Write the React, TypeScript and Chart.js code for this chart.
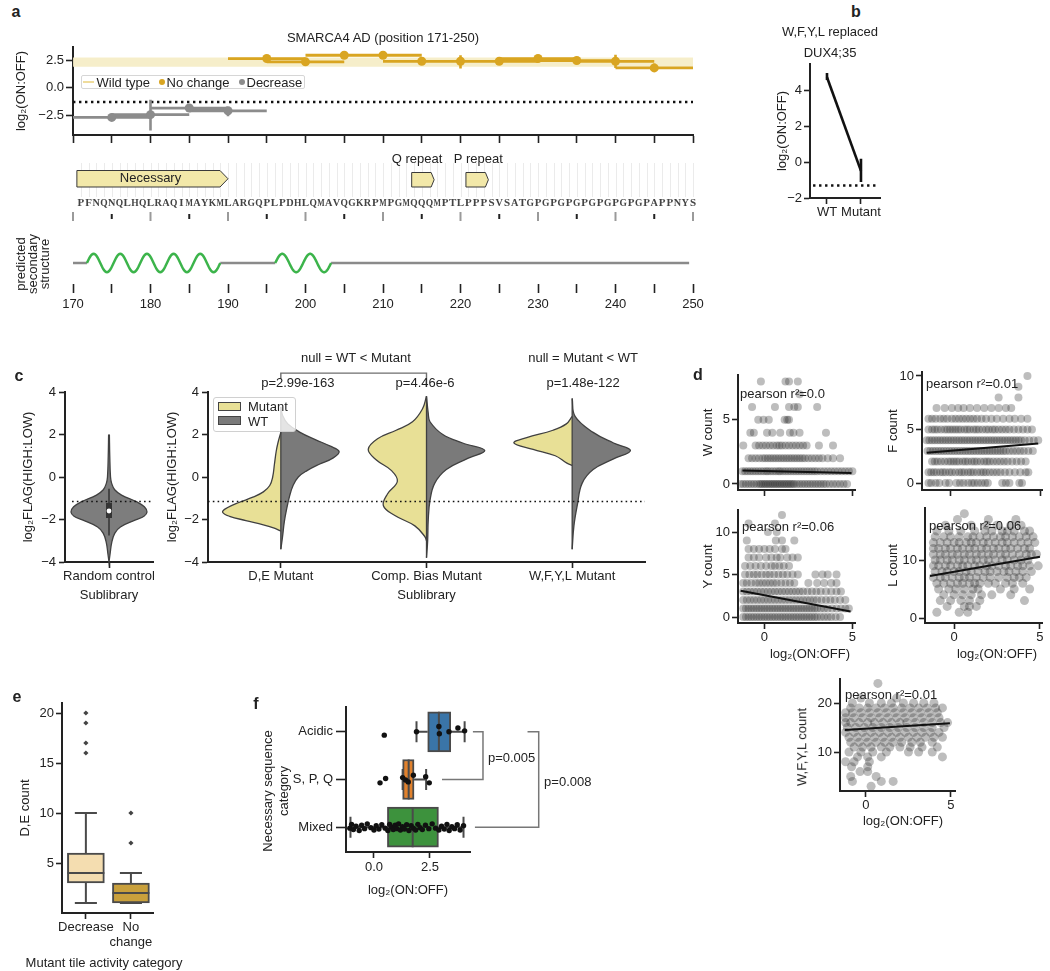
import React, { useEffect, useRef } from 'react';
import { Chart, registerables } from 'chart.js';

Chart.register(...registerables);

const FONT = "'Liberation Sans', Arial, Helvetica, sans-serif";
const INK = '#222222';
const FS = 13;
const LH = FS * 1.2;
Chart.defaults.font.family = FONT;
Chart.defaults.color = INK;

/* ================= DATA: panel a ================= */
const POS_TICKS = [170, 175, 180, 185, 190, 195, 200, 205, 210, 215, 220, 225, 230, 235, 240, 245, 250];
const A_Y_TICKS = [-2.5, 0, 2.5];
const WT_BAND = [1.9, 2.75];
const A_THRESHOLD = -1.3;
const TILE_HALF_WIDTH = 5;
const DEC_CENTERS = [175, 180, 185, 190];
const DEC_VALUES = [-2.7, -2.45, -1.85, -2.1];
const DEC_LOW = [-2.8, -3.9, -1.95, -2.6];
const DEC_HIGH = [-2.6, -1.1, -1.7, -1.75];
const NC_CENTERS = [195, 200, 205, 210, 215, 220, 225, 230, 235, 240, 245];
const NC_VALUES = [2.65, 2.35, 2.95, 2.95, 2.4, 2.4, 2.4, 2.65, 2.47, 2.4, 1.8];
const NC_LOW = [2.56, 2.26, 2.87, 2.87, 2.25, 1.75, 2.3, 2.56, 2.38, 1.8, 1.45];
const NC_HIGH = [2.74, 2.44, 3.03, 3.03, 2.55, 2.95, 2.5, 2.74, 2.56, 3.0, 2.2];
const SEQ_START = 171;
const SEQUENCE = 'PFNQNQLHQLRAQIMAYKM' + 'LARGQPLPDHLQMAVQGKRPM' + 'PGMQQQMPTLPPPSVSATG' + 'PGPGPGPGPGPGPGPAPPNYS';
const FEATURE_NAMES = ['Necessary', 'Q repeat', 'P repeat'];
const FEATURE_START = [170.5, 213.7, 220.7];
const FEATURE_END = [190, 216.6, 223.6];
const FEATURE_LABEL_POS = [180, 214.4, 222.3];
const HELIX_START = [171.8, 196.1];
const HELIX_END = [189, 203.3];
const HELIX_TURNS = [5, 2];
const SS_EXTENT = [170, 249.5];

/* ================= DATA: panel b ================= */
const B_CATEGORIES = ['WT', 'Mutant'];
const B_VALUES = [4.76, -0.48];
const B_LOW = [4.6, -1.1];
const B_HIGH = [5.0, 0.2];
const B_THRESHOLD = -1.3;
const B_Y_TICKS = [-2, 0, 2, 4];

/* ================= DATA: panel c ================= */
const C_Y_TICKS = [-4, -2, 0, 2, 4];
const C_THRESHOLD = -1.15;
const RC_Y = [2.0, 1.0, 0.0, -0.3, -0.6, -0.85, -1.16, -1.4, -1.65, -1.85, -2.02, -2.35, -2.65, -3.1, -3.6, -4.0];
const RC_W = [0.01, 0.02, 0.04, 0.07, 0.15, 0.33, 0.72, 0.93, 1.0, 0.92, 0.7, 0.3, 0.15, 0.07, 0.03, 0.0];
const RC_BOX = [-1.93, -1.22];
const RC_WHISKER = [-2.75, -0.55];
const RC_MEDIAN = -1.6;
const C2_CATEGORIES = ['D,E Mutant', 'Comp. Bias Mutant', 'W,F,Y,L Mutant'];
const DE_MUT_Y = [2.1, 1.6, 1.2, 0.6, 0.0, -0.4, -0.7, -0.95, -1.2, -1.45, -1.65, -1.85, -2.05, -2.25, -2.42, -2.55];
const DE_MUT_W = [0, 0.05, 0.08, 0.11, 0.14, 0.19, 0.3, 0.48, 0.72, 0.92, 1.0, 0.88, 0.6, 0.3, 0.1, 0];
const DE_WT_Y = [3.3, 2.9, 2.5, 2.1, 1.75, 1.45, 1.2, 0.9, 0.6, 0.3, 0.0, -0.4, -0.9, -1.5, -2.1, -2.8, -3.4];
const DE_WT_W = [0, 0.03, 0.12, 0.33, 0.6, 0.85, 1.0, 0.9, 0.66, 0.45, 0.3, 0.21, 0.15, 0.1, 0.06, 0.03, 0];
const CB_MUT_Y = [3.8, 3.2, 2.6, 2.2, 1.8, 1.3, 0.8, 0.3, -0.2, -0.8, -1.35, -1.8, -2.3, -2.8, -3.0];
const CB_MUT_W = [0, 0.07, 0.24, 0.52, 0.84, 1.0, 0.86, 0.6, 0.5, 0.67, 0.74, 0.55, 0.2, 0.03, 0];
const CB_WT_Y = [3.8, 3.0, 2.6, 2.0, 1.6, 1.25, 0.85, 0.35, -0.3, -1.1, -2.0, -3.0, -3.8];
const CB_WT_W = [0, 0.03, 0.06, 0.28, 0.62, 1.0, 0.69, 0.34, 0.14, 0.06, 0.03, 0.02, 0];
const WF_MUT_Y = [2.85, 2.5, 2.2, 1.85, 1.6, 1.3, 1.0, 0.65, 0.55];
const WF_MUT_W = [0, 0.1, 0.33, 0.78, 1.0, 0.67, 0.29, 0.09, 0];
const WF_WT_Y = [3.7, 2.85, 2.1, 1.6, 1.25, 0.85, 0.35, -0.3, -1.3, -2.3, -3.4];
const WF_WT_W = [0, 0.05, 0.36, 0.71, 1.0, 0.71, 0.36, 0.17, 0.09, 0.03, 0];
const C2_BRACKET_X = [0, 0, 1, 1];
const C2_BRACKET_Y = [4.61, 4.89, 4.89, 4.24];
const C2_NOTE_TEXT = ['null = WT < Mutant', 'p=2.99e-163', 'p=4.46e-6', 'null = Mutant < WT', 'p=1.48e-122'];
const C2_NOTE_X = [0.515, 0.117, 0.99, 2.075, 2.075];
const C2_NOTE_Y = [5.6, 4.42, 4.42, 5.6, 4.42];

/* ================= DATA: panel d (x values per integer count) ================= */
const W_ROWS = [
  [-1.35, -1.2, -1.05, -0.9, -0.75, -0.6, -0.45, -0.3, -0.2, -0.1, 0, 0.1, 0.2, 0.3, 0.4, 0.5, 0.6, 0.7, 0.8, 0.9, 1.0, 1.1, 1.2, 1.3, 1.4, 1.5, 1.6, 1.7, 1.85, 2.0, 2.15, 2.3, 2.45, 2.6, 2.75, 2.9, 3.05, 3.2, 3.35, 3.5, 3.7, 3.9, 4.1, 4.3, 4.5, 4.7],
  [-1.25, -1.1, -0.95, -0.8, -0.65, -0.5, -0.35, -0.2, -0.05, 0.1, 0.2, 0.35, 0.5, 0.65, 0.8, 0.9, 1.05, 1.2, 1.35, 1.5, 1.65, 1.8, 1.95, 2.1, 2.25, 2.4, 2.55, 2.7, 2.85, 3.0, 3.2, 3.4, 3.6, 3.8, 4.0, 4.2, 4.4, 4.6, 4.8, 5.0],
  [-0.9, -0.7, -0.5, -0.3, -0.1, 0.05, 0.2, 0.35, 0.5, 0.65, 0.8, 0.95, 1.1, 1.25, 1.4, 1.55, 1.7, 1.85, 2.0, 2.15, 2.3, 2.5, 2.7, 2.9, 3.1, 3.3, 3.6, 3.9, 4.3],
  [-1.2, -0.5, -0.3, -0.1, 0.1, 0.3, 0.5, 0.7, 0.85, 1.0, 1.2, 1.4, 1.6, 1.8, 2.0, 2.2, 2.4, 3.1, 3.9],
  [-0.8, -0.6, 0.15, 0.45, 0.9, 1.45, 1.65, 2.0, 3.5],
  [-0.35, -0.05, 0.25, 1.15, 1.3, 1.4],
  [-0.7, 0.6, 1.4, 1.7, 1.9, 3.0],
  [2.0],
  [-0.2, 1.2, 1.4, 1.9],
];
const F_ROWS = [
  [-1.2, -1.05, -0.8, -0.6, -0.25, -0.05, 0.35, 0.55, 0.75, 1.0, 1.2, 1.35, 1.55, 1.75, 1.95, 2.1, 2.9, 3.1, 3.3, 3.85, 4.0],
  [-1.2, -1.05, -0.9, -0.75, -0.55, -0.4, -0.25, -0.05, 0.1, 0.3, 0.5, 0.65, 0.8, 1.0, 1.15, 1.3, 1.5, 1.7, 1.85, 2.0, 2.2, 2.4, 2.6, 2.8, 3.05, 3.3, 3.6, 3.9, 4.2, 4.35],
  [-1.0, -0.85, -0.7, -0.5, -0.3, -0.1, 0.05, 0.2, 0.35, 0.5, 0.7, 0.85, 1.0, 1.2, 1.35, 1.5, 1.7, 1.9, 2.05, 2.2, 2.4, 2.6, 2.8, 3.0, 3.2, 3.45, 3.7, 3.95, 4.2],
  [-1.25, -1.1, -0.95, -0.8, -0.65, -0.5, -0.35, -0.2, -0.05, 0.1, 0.25, 0.4, 0.55, 0.7, 0.85, 1.0, 1.15, 1.3, 1.45, 1.6, 1.75, 1.9, 2.05, 2.2, 2.35, 2.5, 2.65, 2.8, 2.95, 3.1, 3.3, 3.5, 3.7, 3.9, 4.1, 4.35, 4.6],
  [-1.3, -1.15, -1.0, -0.85, -0.7, -0.55, -0.4, -0.25, -0.1, 0.05, 0.2, 0.35, 0.5, 0.65, 0.8, 0.95, 1.1, 1.25, 1.4, 1.55, 1.7, 1.85, 2.0, 2.15, 2.3, 2.45, 2.6, 2.75, 2.9, 3.05, 3.2, 3.35, 3.5, 3.65, 3.8, 3.95, 4.15, 4.4, 4.65, 4.9],
  [-1.2, -1.0, -0.85, -0.7, -0.5, -0.3, -0.15, 0.0, 0.15, 0.3, 0.45, 0.6, 0.8, 0.95, 1.1, 1.3, 1.45, 1.6, 1.8, 2.0, 2.15, 2.35, 2.5, 2.7, 2.9, 3.1, 3.3, 3.55, 3.8, 4.05, 4.3, 4.55],
  [-1.2, -1.0, -0.8, -0.55, -0.35, -0.15, 0.1, 0.3, 0.5, 0.7, 0.9, 1.1, 1.3, 1.5, 1.75, 2.0, 2.3, 2.6, 2.95, 3.3, 3.6, 3.95, 4.3],
  [-0.75, -0.3, 0.1, 0.45, 0.75, 1.1, 1.5, 1.9, 2.3, 2.7, 3.1, 3.4],
  [2.7, 3.8],
  [3.8],
  [4.3],
];
const Y_ROWS = [
  [-1.2, -1.05, -0.9, -0.75, -0.6, -0.45, -0.3, -0.15, 0, 0.15, 0.3, 0.45, 0.6, 0.75, 0.9, 1.05, 1.2, 1.35, 1.5, 1.65, 1.8, 1.95, 2.1, 2.25, 2.4, 2.55, 2.7, 2.85, 3.0, 3.2, 3.4, 3.6, 3.8, 4.05, 4.3],
  [-1.2, -1.05, -0.9, -0.75, -0.6, -0.45, -0.3, -0.15, 0, 0.15, 0.3, 0.45, 0.6, 0.75, 0.9, 1.05, 1.2, 1.35, 1.5, 1.65, 1.8, 1.95, 2.1, 2.25, 2.4, 2.55, 2.7, 2.85, 3.0, 3.2, 3.4, 3.6, 3.85, 4.1, 4.35, 4.6, 4.8],
  [-1.2, -1.0, -0.8, -0.6, -0.4, -0.2, 0, 0.2, 0.4, 0.6, 0.8, 1.0, 1.2, 1.4, 1.6, 1.8, 2.0, 2.2, 2.4, 2.6, 2.8, 3.0, 3.25, 3.5, 3.75, 4.0, 4.3, 4.6],
  [-1.2, -1.0, -0.8, -0.6, -0.4, -0.2, 0, 0.2, 0.4, 0.6, 0.8, 1.0, 1.2, 1.4, 1.6, 1.8, 2.0, 2.2, 2.45, 2.7, 2.95, 3.2, 3.5, 3.8, 4.1, 4.35],
  [-1.2, -1.0, -0.75, -0.5, -0.3, -0.1, 0.1, 0.3, 0.5, 0.7, 0.95, 1.2, 1.45, 1.7, 2.5, 3.0, 3.4, 3.8, 4.1],
  [-1.1, -0.85, -0.6, -0.4, -0.15, 0.1, 0.3, 0.55, 0.8, 1.05, 1.3, 1.6, 1.9, 2.9, 3.3, 3.6, 4.1],
  [-1.1, -0.8, -0.5, -0.2, 0.1, 0.4, 0.6, 0.85, 1.1, 1.4],
  [-0.9, -0.6, -0.3, 0.1, 0.4, 0.7, 0.9, 1.3, 1.6, 1.9],
  [-0.9, -0.6, -0.3, 0.0, 0.3, 0.6, 1.0, 1.2],
  [-1.0, 0.65, 1.0, 1.7],
  [0.2, 0.7],
  [-0.9, 0.6],
  [1.0],
];
const L_ROWS = [
  [],
  [-1.0, 0.3, 0.8],
  [-0.4, 0.6, 0.9, 1.3],
  [-0.8, -0.2, 0.4, 0.9, 1.5, 4.1],
  [-0.6, 0.0, 0.5, 1.0, 1.6, 2.2, 3.3],
  [-0.9, -0.3, 0.1, 0.6, 1.1, 1.4, 2.7, 3.5, 4.4],
  [-1.0, -0.6, -0.2, 0.2, 0.5, 0.9, 1.2, 1.5, 2.0, 2.4, 3.0, 3.4, 4.0],
  [-1.2, -0.8, -0.5, -0.1, 0.3, 0.6, 0.9, 1.3, 1.7, 2.1, 2.6, 3.1, 3.5, 3.8, 4.2],
  [-1.1, -0.7, -0.4, 0, 0.3, 0.7, 1.0, 1.4, 1.8, 2.1, 2.5, 2.9, 3.2, 3.6, 4.0, 4.5],
  [-1.2, -0.9, -0.5, -0.2, 0.2, 0.5, 0.8, 1.2, 1.5, 1.9, 2.2, 2.6, 3.0, 3.3, 3.7, 4.0, 4.4, 4.9],
  [-1.1, -0.8, -0.4, -0.1, 0.3, 0.6, 1.0, 1.3, 1.7, 2.0, 2.4, 2.8, 3.1, 3.5, 3.9, 4.3],
  [-1.2, -0.8, -0.5, -0.1, 0.2, 0.6, 0.9, 1.3, 1.6, 2.0, 2.3, 2.7, 3.0, 3.4, 3.8, 4.2, 4.5, 4.8],
  [-1.2, -0.9, -0.5, -0.2, 0.2, 0.5, 0.9, 1.2, 1.6, 1.9, 2.3, 2.6, 3.0, 3.3, 3.7, 4.1, 4.4],
  [-1.2, -0.8, -0.4, 0, 0.3, 0.7, 1.0, 1.3, 1.7, 2.0, 2.4, 2.8, 3.1, 3.5, 3.9, 4.3, 4.7],
  [-1.1, -0.6, -0.2, 0.3, 0.8, 1.1, 1.5, 1.9, 2.3, 2.7, 3.0, 3.4, 3.8, 4.2, 4.6],
  [-1.0, -0.3, 0.4, 1.2, 1.8, 2.2, 2.8, 3.1, 3.5, 4.1, 4.4],
  [-0.5, 1.0, 1.9, 2.5, 3.3, 3.9],
  [0.2, 2.0, 3.6],
  [0.6],
];
const WFYL_ROWS = [
  [], [], [],
  [0.3],
  [-0.8, 0.9, 1.6],
  [-0.9, 0.6],
  [-0.35, 0.1],
  [-0.85, 0.1],
  [-1.2, -0.7, 0.2],
  [-0.5, 0.1, 0.9, 4.5],
  [-1.0, -0.3, 0.4, 1.2, 2.5, 3.1, 3.9],
  [-0.7, -0.2, 0.3, 0.9, 1.4, 2.0, 2.6, 3.3, 4.2],
  [-0.9, -0.4, 0.1, 0.6, 1.1, 1.6, 2.1, 2.7, 3.2, 3.9],
  [-1.0, -0.5, 0, 0.5, 1.0, 1.5, 2.0, 2.5, 3.0, 3.5, 4.0, 4.5],
  [-1.2, -0.7, -0.2, 0.3, 0.8, 1.3, 1.8, 2.3, 2.8, 3.3, 3.8, 4.3],
  [-1.1, -0.6, -0.1, 0.4, 0.9, 1.4, 1.9, 2.4, 2.9, 3.4, 3.9, 4.6],
  [-1.2, -0.9, -0.4, 0.1, 0.5, 1.0, 1.5, 2.0, 2.4, 2.9, 3.4, 3.9, 4.4, 4.8],
  [-1.2, -0.7, -0.2, 0.3, 0.8, 1.3, 1.8, 2.3, 2.8, 3.3, 3.8, 4.3],
  [-1.2, -0.8, -0.3, 0.2, 0.7, 1.2, 1.7, 2.2, 2.7, 3.2, 3.7, 4.2],
  [-0.9, -0.4, 0.1, 0.6, 1.1, 1.6, 2.1, 2.6, 3.1, 3.6, 4.1, 4.5],
  [-0.8, 0.2, 0.9, 1.5, 2.2, 2.8, 3.4, 4.0],
  [-0.3, 1.8],
  [], [],
  [0.7],
];
const W_FIT_X = [-1.25, 4.95]; const W_FIT_Y = [1.05, 0.85];
const F_FIT_X = [-1.3, 4.9]; const F_FIT_Y = [2.83, 3.7];
const Y_FIT_X = [-1.35, 4.9]; const Y_FIT_Y = [3.1, 0.65];
const L_FIT_X = [-1.4, 5.0]; const L_FIT_Y = [7.24, 10.57];
const WFYL_FIT_X = [-1.24, 4.94]; const WFYL_FIT_Y = [14.5, 15.86];
const D_X_TICKS = [0, 5];

/* ================= DATA: panel e ================= */
const E_CATEGORIES = ['Decrease', 'No change'];
const E_Q1 = [3, 1];
const E_MEDIAN = [4, 2];
const E_Q3 = [6, 3];
const E_WHISK_LO = [1, 1];
const E_WHISK_HI = [10, 4];
const E_FLIERS = [[16, 17, 19, 20], [7, 10]];
const E_Y_TICKS = [5, 10, 15, 20];

/* ================= DATA: panel f ================= */
const F_CATEGORIES = ['Acidic', 'S, P, Q', 'Mixed'];
const F_Q1 = [2.4, 1.28, 0.6];
const F_MEDIAN = [2.9, 1.55, 1.73];
const F_Q3 = [3.43, 1.79, 2.88];
const F_WHISK_LO = [1.9, 1.28, -1.05];
const F_WHISK_HI = [4.05, 2.33, 4.0];
const ACIDIC_X = [0.46, 1.9, 2.9, 2.92, 3.35, 3.75, 4.05];
const ACIDIC_J = [0.07, 0.0, -0.11, 0.04, 0.0, -0.08, -0.02];
const SPQ_X = [0.27, 0.52, 1.28, 1.41, 1.53, 1.76, 2.31, 2.47];
const SPQ_J = [0.07, -0.02, -0.04, 0.01, 0.05, -0.09, -0.06, 0.07];
const MIXED_X = [-1.08, -1.0, -0.92, -0.8, -0.66, -0.55, -0.42, -0.3, -0.14, 0.0, 0.1, 0.22, 0.35, 0.5, 0.62, 0.7, 0.78, 0.86, 0.95, 1.02, 1.1, 1.18, 1.27, 1.36, 1.46, 1.56, 1.66, 1.76, 1.86, 1.96, 2.06, 2.16, 2.3, 2.45, 2.6, 2.75, 2.9, 3.02, 3.14, 3.26, 3.36, 3.48, 3.6, 3.72, 3.85, 4.0];
const MIXED_J = [0.02, -0.06, 0.05, -0.02, 0.07, -0.04, 0.03, -0.07, 0.01, 0.06, -0.03, 0.04, -0.05, 0.02, 0.07, -0.06, 0.0, 0.05, -0.04, 0.03, -0.07, 0.06, -0.01, 0.04, -0.05, 0.07, -0.03, 0.02, 0.06, -0.06, 0.01, 0.05, -0.04, 0.03, -0.07, 0.02, 0.06, -0.02, 0.04, -0.06, 0.07, -0.01, 0.03, -0.05, 0.06, -0.03];
const F_X_TICKS = [0, 2.5];
const F_BRACKET1_X = [4.42, 4.87, 4.87, 3.04];
const F_BRACKET1_Y = [0, 0, 1, 1];
const F_BRACKET2_X = [6.86, 7.36, 7.36, 4.51];
const F_BRACKET2_Y = [0, 0, 2, 2];
const F_P_TEXT = ['p=0.005', 'p=0.008'];
const F_P_X = [5.09, 7.6];
const F_P_Y = [0.55, 1.07];

/* ================= STYLE ================= */
const NC_COLOR = '#d9a521';
const DEC_COLOR = '#8c8c8c';
const BAND_COLOR = 'rgba(245,236,196,0.9)';
const FEATURE_FILL = '#f2e8a9';
const SS_COIL = '#8a8a8a';
const SS_HELIX = '#3cb44b';
const MUT_COLOR = '#e8e096';
const WT_COLOR = '#7a7a7a';
const OUTLINE = '#404040';
const DOT = 'rgba(35,35,35,0.3)';
const E_COLORS = ['#f4ddb0', '#c9a03c'];
const F_COLORS = ['#3a75a8', '#e1812c', '#3d923d'];
const BOX_EDGE = '#4a4a4a';

type Box = { x: number; y: number; w: number; h: number };
type Area = { l: number; t: number; r: number; b: number };

const A_TOP_BOX: Box = { x: 0, y: 25, w: 700, h: 125 };
const A_TOP_AREA: Area = { l: 73, t: 47, r: 693, b: 135 };
const A_MID_BOX: Box = { x: 0, y: 150, w: 720, h: 170 };
const A_MID_AREA: Area = { l: 73, t: 150, r: 693, b: 284 };
const B_BOX: Box = { x: 768, y: 40, w: 122, h: 195 };
const B_AREA: Area = { l: 810, t: 64, r: 880, b: 198 };
const C1_BOX: Box = { x: 0, y: 380, w: 160, h: 230 };
const C1_AREA: Area = { l: 65, t: 392, r: 153, b: 562 };
const C2_BOX: Box = { x: 160, y: 345, w: 500, h: 265 };
const C2_AREA: Area = { l: 208, t: 392, r: 645, b: 562 };
const E_BOX: Box = { x: 0, y: 690, w: 175, h: 281 };
const E_AREA: Area = { l: 62, t: 703, r: 153, b: 913 };
const F_BOX: Box = { x: 240, y: 700, w: 360, h: 200 };
const F_AREA: Area = { l: 346, t: 707, r: 470, b: 852 };

function frame(c: Box, a: Area, yTitleX: number | null, xTitleY: number | null, hasY = true) {
  const padLeft = !hasY ? a.l - c.x : yTitleX == null ? 0 : yTitleX - LH / 2 - c.x;
  const yW = a.l - c.x - padLeft;
  const padBottom = xTitleY == null ? 0 : c.y + c.h - xTitleY - LH / 2;
  const xH = c.y + c.h - padBottom - a.b;
  return { padding: { left: padLeft, top: a.t - c.y, right: c.x + c.w - a.r, bottom: padBottom }, yW, xH };
}

const signed = (s: string) => s.replace('-', '\u2212');
const fmtInt = (v: number) => signed(String(v));
const fmt1 = (v: number) => signed(v.toFixed(1));

function axis(o: any) {
  return {
    type: 'linear',
    position: o.pos,
    min: o.min,
    max: o.max,
    reverse: !!o.reverse,
    offset: false,
    afterBuildTicks: (s: any) => {
      s.ticks = o.ticks.map((v: number) => ({ value: v }));
    },
    afterFit: (s: any) => {
      if (o.pos === 'bottom') s.height = o.size;
      else s.width = o.size;
      s.paddingLeft = 0;
      s.paddingRight = 0;
      s.paddingTop = 0;
      s.paddingBottom = 0;
    },
    border: { display: o.border !== false, color: INK, width: 2 },
    grid: { display: true, drawOnChartArea: false, drawTicks: true, tickLength: o.tickLen ?? 6, tickWidth: 1.6, tickColor: INK, offset: false },
    ticks: {
      display: o.labels !== false,
      padding: o.pad ?? 2,
      color: INK,
      font: { family: FONT, size: FS, lineHeight: 1.2 },
      autoSkip: false,
      maxRotation: 0,
      minRotation: 0,
      callback: (v: any) => (o.fmt ? o.fmt(Number(v)) : String(v)),
    },
    title: o.title
      ? { display: true, text: o.title, color: INK, font: { family: FONT, size: FS, lineHeight: 1.2 }, padding: 0 }
      : { display: false },
  };
}

function opts(f: any, scales: any) {
  return {
    animation: false,
    responsive: false,
    maintainAspectRatio: false,
    events: [],
    layout: { padding: f.padding },
    plugins: { legend: { display: false }, tooltip: { enabled: false }, title: { display: false } },
    scales,
  };
}

const lineDs = (data: any[], color: string, width: number, order: number, extra: any = {}) => ({
  type: 'line',
  data,
  borderColor: color,
  backgroundColor: color,
  borderWidth: width,
  pointRadius: 0,
  pointHoverRadius: 0,
  fill: false,
  spanGaps: false,
  tension: 0,
  order,
  clip: false,
  ...extra,
});
const pointDs = (data: any[], color: string, radius: number, order: number, extra: any = {}) => ({
  type: 'line',
  data,
  showLine: false,
  pointRadius: radius,
  pointHoverRadius: radius,
  pointBackgroundColor: color,
  pointBorderWidth: 0,
  pointBorderColor: 'rgba(0,0,0,0)',
  fill: false,
  order,
  clip: false,
  ...extra,
});
const rowsToPoints = (rows: number[][]) => rows.flatMap((xs, count) => xs.map((x) => ({ x, y: count })));
const half = (cx: number, ys: number[], ws: number[], maxW: number, side: number) =>
  ys.map((y, i) => ({ x: cx + side * ws[i] * maxW, y }));

/* ================= panel a (tiles) ================= */
function aTopConfig() {
  const f = frame(A_TOP_BOX, A_TOP_AREA, 21, null);
  const segs = (cs: number[], vs: number[]) =>
    cs.flatMap((c, i) => [{ x: c - TILE_HALF_WIDTH, y: vs[i] }, { x: c + TILE_HALF_WIDTH, y: vs[i] }, { x: c, y: null }]);
  const errs = (cs: number[], lo: number[], hi: number[]) =>
    cs.flatMap((c, i) => [{ x: c, y: lo[i] }, { x: c, y: hi[i] }, { x: c, y: null }]);
  const pts = (cs: number[], vs: number[]) => cs.map((c, i) => ({ x: c, y: vs[i] }));
  const xMin = POS_TICKS[0];
  const xMax = POS_TICKS[POS_TICKS.length - 1];
  return {
    type: 'line',
    data: {
      datasets: [
        lineDs([{ x: xMin, y: WT_BAND[1] }, { x: xMax, y: WT_BAND[1] }], 'rgba(0,0,0,0)', 0, 20, {
          fill: { target: { value: WT_BAND[0] } },
          backgroundColor: BAND_COLOR,
        }),
        lineDs([{ x: xMin, y: A_THRESHOLD }, { x: xMax, y: A_THRESHOLD }], '#111', 2.4, 15, { borderDash: [2.4, 3.6] }),
        lineDs(segs(DEC_CENTERS, DEC_VALUES), DEC_COLOR, 2.8, 6),
        lineDs(errs(DEC_CENTERS, DEC_LOW, DEC_HIGH), DEC_COLOR, 2.6, 5),
        pointDs(pts(DEC_CENTERS, DEC_VALUES), DEC_COLOR, 4.5, 4),
        lineDs(segs(NC_CENTERS, NC_VALUES), NC_COLOR, 2.8, 3),
        lineDs(errs(NC_CENTERS, NC_LOW, NC_HIGH), NC_COLOR, 2.6, 2),
        pointDs(pts(NC_CENTERS, NC_VALUES), NC_COLOR, 4.5, 1),
      ],
    },
    options: opts(f, {
      x: axis({ pos: 'bottom', min: xMin, max: xMax, ticks: POS_TICKS, size: f.xH, tickLen: 8, labels: false }),
      y: axis({ pos: 'left', min: -4.3, max: 3.7, ticks: A_Y_TICKS, fmt: fmt1, size: f.yW, tickLen: 7, pad: 2, title: 'log\u2082(ON:OFF)' }),
    }),
  };
}

const aMidPlugin = {
  id: 'aMid',
  afterDraw(chart: any) {
    const ctx = chart.ctx;
    const xs = chart.scales.x;
    const X = (v: number) => xs.getPixelForValue(v);
    const Y = (pageY: number) => pageY - A_MID_BOX.y;
    ctx.save();
    ctx.lineWidth = 1;
    ctx.strokeStyle = '#ebebeb';
    for (let i = 0; i < SEQUENCE.length; i++) {
      const px = Math.round(X(SEQ_START + i)) + 0.5;
      ctx.beginPath();
      ctx.moveTo(px, Y(163));
      ctx.lineTo(px, Y(197));
      ctx.stroke();
    }
    FEATURE_NAMES.forEach((name, i) => {
      const x0 = X(FEATURE_START[i]);
      const x1 = X(FEATURE_END[i]);
      const top = Y(i === 0 ? 170.5 : 172.5);
      const bot = Y(187);
      const tip = i === 0 ? 8 : 3;
      ctx.beginPath();
      ctx.moveTo(x0, top);
      ctx.lineTo(x1 - tip, top);
      ctx.lineTo(x1, (top + bot) / 2);
      ctx.lineTo(x1 - tip, bot);
      ctx.lineTo(x0, bot);
      ctx.closePath();
      ctx.fillStyle = FEATURE_FILL;
      ctx.fill();
      ctx.strokeStyle = '#3a3a3a';
      ctx.lineWidth = 1;
      ctx.stroke();
      ctx.fillStyle = INK;
      ctx.font = `${FS}px ${FONT}`;
      ctx.textAlign = 'center';
      ctx.textBaseline = 'middle';
      ctx.fillText(name, X(FEATURE_LABEL_POS[i]), i === 0 ? (top + bot) / 2 : Y(159));
    });
    ctx.font = "bold 11px 'Liberation Serif', 'DejaVu Serif', serif";
    ctx.fillStyle = '#444';
    ctx.textAlign = 'center';
    ctx.textBaseline = 'middle';
    for (let i = 0; i < SEQUENCE.length; i++) ctx.fillText(SEQUENCE[i], X(SEQ_START + i), Y(203), 7.4);
    for (const p of POS_TICKS) {
      const major = p % 10 === 0;
      ctx.strokeStyle = major ? '#9a9a9a' : '#222';
      ctx.lineWidth = 2;
      ctx.beginPath();
      ctx.moveTo(X(p), Y(major ? 212 : 214));
      ctx.lineTo(X(p), Y(major ? 221 : 219));
      ctx.stroke();
    }
    const base = Y(263);
    const amp = 9.2;
    ctx.lineWidth = 2.5;
    ctx.strokeStyle = SS_COIL;
    const bounds = [SS_EXTENT[0], ...HELIX_START.flatMap((s, i) => [s, HELIX_END[i]]), SS_EXTENT[1]];
    for (let k = 0; k < bounds.length; k += 2) {
      ctx.beginPath();
      ctx.moveTo(X(bounds[k]), base);
      ctx.lineTo(X(bounds[k + 1]), base);
      ctx.stroke();
    }
    ctx.strokeStyle = SS_HELIX;
    HELIX_START.forEach((s, i) => {
      const x0 = X(s);
      const x1 = X(HELIX_END[i]);
      ctx.beginPath();
      const n = 160;
      for (let k = 0; k <= n; k++) {
        const t = k / n;
        const px = x0 + (x1 - x0) * t;
        const py = base - amp * Math.sin(2 * Math.PI * HELIX_TURNS[i] * t);
        if (k === 0) ctx.moveTo(px, py);
        else ctx.lineTo(px, py);
      }
      ctx.stroke();
    });
    ctx.restore();
  },
};

function aMidConfig() {
  const f = frame(A_MID_BOX, A_MID_AREA, null, null, false);
  return {
    type: 'line',
    data: { datasets: [] },
    options: opts(f, {
      x: axis({
        pos: 'bottom', min: POS_TICKS[0], max: POS_TICKS[POS_TICKS.length - 1], ticks: POS_TICKS,
        fmt: (v: number) => (v % 10 === 0 ? String(v) : ''), size: f.xH, tickLen: 9, pad: 4, border: false,
      }),
      y: { display: false, min: 0, max: 1 },
    }),
    plugins: [aMidPlugin],
  };
}

/* ================= panel b ================= */
function bConfig() {
  const f = frame(B_BOX, B_AREA, 782, null);
  return {
    type: 'line',
    data: {
      datasets: [
        lineDs([{ x: -0.41, y: B_THRESHOLD }, { x: 1.47, y: B_THRESHOLD }], '#111', 2.4, 5, { borderDash: [2.4, 3.6] }),
        lineDs(B_VALUES.map((v, i) => ({ x: i, y: v })), '#111', 2.6, 1),
        lineDs(B_VALUES.flatMap((_, i) => [{ x: i, y: B_LOW[i] }, { x: i, y: B_HIGH[i] }, { x: i, y: null }]), '#111', 2.6, 0),
      ],
    },
    options: opts(f, {
      x: axis({ pos: 'bottom', min: -0.5, max: 1.56, ticks: [0, 1], fmt: (v: number) => B_CATEGORIES[Math.round(v)], size: f.xH, tickLen: 6, pad: 1 }),
      y: axis({ pos: 'left', min: -2, max: 5.5, ticks: B_Y_TICKS, fmt: fmtInt, size: f.yW, tickLen: 6, pad: 2, title: 'log\u2082(ON:OFF)' }),
    }),
  };
}

/* ================= panel c ================= */
function c1Config() {
  const f = frame(C1_BOX, C1_AREA, 28, 595);
  const maxW = 0.864;
  const right = half(0, RC_Y, RC_W, maxW, 1);
  const left = half(0, RC_Y, RC_W, maxW, -1).reverse();
  return {
    type: 'line',
    data: {
      datasets: [
        lineDs([...right, ...left], OUTLINE, 1.3, 10, { fill: 'shape', backgroundColor: '#7d7d7d', tension: 0.4 }),
        lineDs([{ x: 0, y: RC_WHISKER[0] }, { x: 0, y: RC_WHISKER[1] }], '#333', 1.5, 4),
        lineDs([{ x: 0, y: RC_BOX[0] }, { x: 0, y: RC_BOX[1] }], '#333', 6, 3, { borderCapStyle: 'butt' }),
        pointDs([{ x: 0, y: RC_MEDIAN }], '#ffffff', 2.4, 2),
        lineDs([{ x: -0.84, y: C_THRESHOLD }, { x: 1, y: C_THRESHOLD }], '#111', 1.6, 0, { borderDash: [1.6, 3.2] }),
      ],
    },
    options: opts(f, {
      x: axis({ pos: 'bottom', min: -1, max: 1, ticks: [0], fmt: () => 'Random control', size: f.xH, tickLen: 6, pad: 1, title: 'Sublibrary' }),
      y: axis({ pos: 'left', min: -4, max: 4, ticks: C_Y_TICKS, fmt: fmtInt, size: f.yW, tickLen: 6, pad: 3, title: 'log\u2082FLAG(HIGH:LOW)' }),
    }),
  };
}

const c2Plugin = {
  id: 'c2notes',
  afterDatasetsDraw(chart: any) {
    const { ctx } = chart;
    const xs = chart.scales.x;
    const ys = chart.scales.y;
    ctx.save();
    ctx.strokeStyle = '#6e6e6e';
    ctx.lineWidth = 1.4;
    ctx.beginPath();
    C2_BRACKET_X.forEach((bx, i) => {
      const px = xs.getPixelForValue(bx);
      const py = ys.getPixelForValue(C2_BRACKET_Y[i]);
      if (i === 0) ctx.moveTo(px, py);
      else ctx.lineTo(px, py);
    });
    ctx.stroke();
    ctx.fillStyle = INK;
    ctx.font = `${FS}px ${FONT}`;
    ctx.textAlign = 'center';
    ctx.textBaseline = 'middle';
    C2_NOTE_TEXT.forEach((t, i) => ctx.fillText(t, xs.getPixelForValue(C2_NOTE_X[i]), ys.getPixelForValue(C2_NOTE_Y[i])));
    ctx.restore();
  },
};

function c2Config() {
  const f = frame(C2_BOX, C2_AREA, 172, 595);
  const maxW = 0.4;
  const mut = [[DE_MUT_Y, DE_MUT_W], [CB_MUT_Y, CB_MUT_W], [WF_MUT_Y, WF_MUT_W]];
  const wt = [[DE_WT_Y, DE_WT_W], [CB_WT_Y, CB_WT_W], [WF_WT_Y, WF_WT_W]];
  const datasets: any[] = [];
  C2_CATEGORIES.forEach((_, i) => {
    const [my, mw] = mut[i];
    const [wy, ww] = wt[i];
    datasets.push(lineDs(half(i, my, mw, maxW, -1), OUTLINE, 1.3, 10, { fill: 'shape', backgroundColor: MUT_COLOR, tension: 0.4 }));
    datasets.push(lineDs(half(i, wy, ww, maxW, 1), OUTLINE, 1.3, 10, { fill: 'shape', backgroundColor: WT_COLOR, tension: 0.4 }));
    const top = Math.max(my[0], wy[0]);
    const bot = Math.min(my[my.length - 1], wy[wy.length - 1]);
    datasets.push(lineDs([{ x: i, y: top }, { x: i, y: bot }], OUTLINE, 1.3, 5));
  });
  datasets.push(lineDs([{ x: -0.5, y: C_THRESHOLD }, { x: 2.5, y: C_THRESHOLD }], '#111', 1.6, 0, { borderDash: [1.6, 3.2] }));
  return {
    type: 'line',
    data: { datasets },
    options: opts(f, {
      x: axis({ pos: 'bottom', min: -0.5, max: 2.5, ticks: [0, 1, 2], fmt: (v: number) => C2_CATEGORIES[Math.round(v)], size: f.xH, tickLen: 6, pad: 1, title: 'Sublibrary' }),
      y: axis({ pos: 'left', min: -4, max: 4, ticks: C_Y_TICKS, fmt: fmtInt, size: f.yW, tickLen: 6, pad: 3, title: 'log\u2082FLAG(HIGH:LOW)' }),
    }),
    plugins: [c2Plugin],
  };
}

/* ================= panel d ================= */
function dConfig(s: any) {
  const f = frame(s.box, s.area, s.yTitleX, null);
  return {
    type: 'line',
    data: {
      datasets: [
        lineDs([{ x: s.fitX[0], y: s.fitY[0] }, { x: s.fitX[1], y: s.fitY[1] }], '#111', 2, 0),
        pointDs(rowsToPoints(s.rows), DOT, s.radius, 1),
      ],
    },
    options: opts(f, {
      x: axis({ pos: 'bottom', min: s.xr[0], max: s.xr[1], ticks: D_X_TICKS, fmt: fmtInt, size: f.xH, tickLen: 6, pad: 0.5, labels: s.xLabels }),
      y: axis({ pos: 'left', min: s.yr[0], max: s.yr[1], ticks: s.yTicks, fmt: fmtInt, size: f.yW, tickLen: 6, pad: 2, title: s.yTitle }),
    }),
  };
}
const D_SPECS = [
  { box: { x: 695, y: 370, w: 165, h: 130 }, area: { l: 738, t: 375, r: 855, b: 490 }, yTitleX: 708, yTitle: 'W count', xr: [-1.5, 5.15], yr: [-0.47, 8.5], yTicks: [0, 5], rows: W_ROWS, fitX: W_FIT_X, fitY: W_FIT_Y, radius: 4, xLabels: false },
  { box: { x: 880, y: 365, w: 170, h: 135 }, area: { l: 922, t: 372, r: 1042, b: 490 }, yTitleX: 893, yTitle: 'F count', xr: [-1.56, 5.11], yr: [-0.65, 10.37], yTicks: [0, 5, 10], rows: F_ROWS, fitX: F_FIT_X, fitY: F_FIT_Y, radius: 4, xLabels: false },
  { box: { x: 695, y: 505, w: 165, h: 160 }, area: { l: 738, t: 510, r: 855, b: 623 }, yTitleX: 708, yTitle: 'Y count', xr: [-1.5, 5.15], yr: [-0.7, 12.6], yTicks: [0, 5, 10], rows: Y_ROWS, fitX: Y_FIT_X, fitY: Y_FIT_Y, radius: 4, xLabels: true },
  { box: { x: 880, y: 500, w: 170, h: 165 }, area: { l: 925, t: 508, r: 1042, b: 623 }, yTitleX: 893, yTitle: 'L count', xr: [-1.69, 5.12], yr: [-0.86, 18.97], yTicks: [0, 10], rows: L_ROWS, fitX: L_FIT_X, fitY: L_FIT_Y, radius: 4.5, xLabels: true },
  { box: { x: 790, y: 670, w: 175, h: 160 }, area: { l: 840, t: 679, r: 955, b: 791 }, yTitleX: null, yTitle: '', xr: [-1.53, 5.24], yr: [2.04, 24.9], yTicks: [10, 20], rows: WFYL_ROWS, fitX: WFYL_FIT_X, fitY: WFYL_FIT_Y, radius: 4.5, xLabels: true },
];

/* ================= panel e ================= */
function eConfig() {
  const f = frame(E_BOX, E_AREA, 25, null);
  const cap = 0.245;
  const bw = 0.41;
  const whisk = E_CATEGORIES.flatMap((_, i) => [
    { x: i, y: E_WHISK_LO[i] }, { x: i, y: E_Q1[i] }, { x: i, y: null },
    { x: i, y: E_Q3[i] }, { x: i, y: E_WHISK_HI[i] }, { x: i, y: null },
    { x: i - cap, y: E_WHISK_LO[i] }, { x: i + cap, y: E_WHISK_LO[i] }, { x: i, y: null },
    { x: i - cap, y: E_WHISK_HI[i] }, { x: i + cap, y: E_WHISK_HI[i] }, { x: i, y: null },
  ]);
  const med = E_CATEGORIES.flatMap((_, i) => [{ x: i - bw, y: E_MEDIAN[i] }, { x: i + bw, y: E_MEDIAN[i] }, { x: i, y: null }]);
  const fl = E_FLIERS.flatMap((vals, i) => vals.map((v) => ({ x: i, y: v })));
  return {
    type: 'bar',
    data: {
      datasets: [
        { type: 'bar', data: E_CATEGORIES.map((_, i) => ({ x: i, y: [E_Q1[i], E_Q3[i]] })), backgroundColor: E_COLORS, borderColor: BOX_EDGE, borderWidth: 2, borderSkipped: false, barThickness: 37, order: 5 },
        lineDs(whisk, BOX_EDGE, 2, 6),
        lineDs(med, BOX_EDGE, 2, 1),
        pointDs(fl, '#444', 2.6, 0, { pointStyle: 'rectRot' }),
      ],
    },
    options: opts(f, {
      x: axis({ pos: 'bottom', min: -0.53, max: 1.49, ticks: [0, 1], fmt: (v: number) => (Math.round(v) === 0 ? E_CATEGORIES[0] : ['No', 'change']), size: f.xH, tickLen: 6, pad: 0.5 }),
      y: axis({ pos: 'left', min: 0, max: 21, ticks: E_Y_TICKS, fmt: fmtInt, size: f.yW, tickLen: 6, pad: 2, title: 'D,E count' }),
    }),
  };
}

/* ================= panel f ================= */
const fPlugin = {
  id: 'fnotes',
  afterDraw(chart: any) {
    const { ctx } = chart;
    const xs = chart.scales.x;
    const ys = chart.scales.y;
    ctx.save();
    ctx.strokeStyle = '#777';
    ctx.lineWidth = 1.5;
    [[F_BRACKET1_X, F_BRACKET1_Y], [F_BRACKET2_X, F_BRACKET2_Y]].forEach(([bx, by]) => {
      ctx.beginPath();
      bx.forEach((v, i) => {
        const px = xs.getPixelForValue(v);
        const py = ys.getPixelForValue(by[i]);
        if (i === 0) ctx.moveTo(px, py);
        else ctx.lineTo(px, py);
      });
      ctx.stroke();
    });
    ctx.fillStyle = INK;
    ctx.font = `${FS}px ${FONT}`;
    ctx.textAlign = 'left';
    ctx.textBaseline = 'middle';
    F_P_TEXT.forEach((t, i) => ctx.fillText(t, xs.getPixelForValue(F_P_X[i]), ys.getPixelForValue(F_P_Y[i])));
    ctx.restore();
  },
};

function fConfig() {
  const f = frame(F_BOX, F_AREA, null, 890);
  const cap = 0.22;
  const bh = 0.42;
  const whisk = F_CATEGORIES.flatMap((_, i) => [
    { x: F_WHISK_LO[i], y: i }, { x: F_Q1[i], y: i }, { x: F_Q1[i], y: null },
    { x: F_Q3[i], y: i }, { x: F_WHISK_HI[i], y: i }, { x: F_WHISK_HI[i], y: null },
    { x: F_WHISK_LO[i], y: i - cap }, { x: F_WHISK_LO[i], y: i + cap }, { x: F_WHISK_LO[i], y: null },
    { x: F_WHISK_HI[i], y: i - cap }, { x: F_WHISK_HI[i], y: i + cap }, { x: F_WHISK_HI[i], y: null },
  ]);
  const med = F_CATEGORIES.flatMap((_, i) => [{ x: F_MEDIAN[i], y: i - bh }, { x: F_MEDIAN[i], y: i + bh }, { x: F_MEDIAN[i], y: null }]);
  const strip = [
    ...ACIDIC_X.map((x, i) => ({ x, y: 0 + (ACIDIC_J[i] ?? 0) })),
    ...SPQ_X.map((x, i) => ({ x, y: 1 + (SPQ_J[i] ?? 0) })),
    ...MIXED_X.map((x, i) => ({ x, y: 2 + (MIXED_J[i] ?? 0) })),
  ];
  return {
    type: 'bar',
    data: {
      datasets: [
        { type: 'bar', indexAxis: 'y', data: F_CATEGORIES.map((_, i) => ({ y: i, x: [F_Q1[i], F_Q3[i]] })), backgroundColor: F_COLORS, borderColor: BOX_EDGE, borderWidth: 2, borderSkipped: false, barThickness: 40, order: 5 },
        lineDs(whisk, BOX_EDGE, 2, 6),
        lineDs(med, BOX_EDGE, 2, 2),
        pointDs(strip, '#111', 2.7, 0),
      ],
    },
    options: opts(f, {
      x: axis({ pos: 'bottom', min: -1.25, max: 4.29, ticks: F_X_TICKS, fmt: fmt1, size: f.xH, tickLen: 6, pad: 2, title: 'log\u2082(ON:OFF)' }),
      y: axis({ pos: 'left', min: -0.52, max: 2.52, reverse: true, ticks: [0, 1, 2], fmt: (v: number) => F_CATEGORIES[Math.round(v)], size: f.yW, tickLen: 10, pad: 3 }),
    }),
    plugins: [fPlugin],
  };
}

/* ================= components ================= */
function ChartBox({ box, make }: { box: Box; make: () => any }) {
  const ref = useRef<HTMLCanvasElement | null>(null);
  useEffect(() => {
    const chart = new Chart(ref.current as HTMLCanvasElement, make());
    return () => chart.destroy();
  }, []);
  return (
    <canvas
      ref={ref}
      width={box.w}
      height={box.h}
      style={{ position: 'absolute', left: box.x, top: box.y, width: box.w, height: box.h }}
    />
  );
}

function T({ x, y, text, size = FS, bold = false, align = 'center' }: { x: number; y: number; text: string; size?: number; bold?: boolean; align?: string }) {
  return (
    <div
      style={{
        position: 'absolute', left: x, top: y,
        transform: align === 'left' ? 'translate(0,-50%)' : 'translate(-50%,-50%)',
        whiteSpace: 'nowrap', font: `${bold ? 'bold ' : ''}${size}px ${FONT}`, color: INK, lineHeight: 1,
      }}
    >
      {text}
    </div>
  );
}

function VText({ x, y, lines, lh = LH }: { x: number; y: number; lines: string[]; lh?: number }) {
  return (
    <div
      style={{
        position: 'absolute', left: x, top: y, transform: 'translate(-50%,-50%) rotate(-90deg)',
        textAlign: 'center', whiteSpace: 'nowrap', font: `${FS}px ${FONT}`, lineHeight: `${lh}px`, color: INK,
      }}
    >
      {lines.map((l) => (
        <div key={l}>{l}</div>
      ))}
    </div>
  );
}

const abs = (l: number, t: number, w: number, h: number, extra: any = {}) => ({ position: 'absolute' as const, left: l, top: t, width: w, height: h, boxSizing: 'border-box' as const, ...extra });

export default function App() {
  return (
    <div style={{ position: 'absolute', left: 0, top: 0, width: 1050, height: 971, background: '#fff', overflow: 'hidden', fontFamily: FONT, color: INK }}>
      <ChartBox box={A_TOP_BOX} make={aTopConfig} />
      <ChartBox box={A_MID_BOX} make={aMidConfig} />
      <ChartBox box={B_BOX} make={bConfig} />
      <ChartBox box={C1_BOX} make={c1Config} />
      <ChartBox box={C2_BOX} make={c2Config} />
      {D_SPECS.map((s, i) => (
        <ChartBox key={i} box={s.box} make={() => dConfig(s)} />
      ))}
      <ChartBox box={E_BOX} make={eConfig} />
      <ChartBox box={F_BOX} make={fConfig} />

      {/* panel letters */}
      <T x={16} y={12} text="a" size={16} bold />
      <T x={856} y={12} text="b" size={16} bold />
      <T x={19} y={376} text="c" size={16} bold />
      <T x={698} y={375} text="d" size={16} bold />
      <T x={17} y={697} text="e" size={16} bold />
      <T x={256} y={704} text="f" size={16} bold />

      {/* panel a texts */}
      <T x={383} y={37} text="SMARCA4 AD (position 171-250)" />
      <div style={abs(81, 75, 224, 14, { border: '1px solid #d6d6d6', borderRadius: 2, background: 'rgba(255,255,255,0.85)' })} />
      <div style={abs(83, 81, 11, 1.6, { background: '#efdc9c' })} />
      <T x={96.5} y={82} text="Wild type" align="left" />
      <div style={abs(158.7, 79, 6, 6, { background: NC_COLOR, borderRadius: 3 })} />
      <T x={166.5} y={82} text="No change" align="left" />
      <div style={abs(238.7, 79, 6, 6, { background: DEC_COLOR, borderRadius: 3 })} />
      <T x={246.5} y={82} text="Decrease" align="left" />
      <VText x={33} y={264} lines={['predicted', 'secondary', 'structure']} lh={12} />

      {/* panel b texts */}
      <T x={830} y={31} text="W,F,Y,L replaced" />
      <T x={830} y={52} text="DUX4;35" />

      {/* panel c legend */}
      <div style={abs(213, 397, 83, 35, { border: '1px solid #d0d0d0', borderRadius: 3, background: 'rgba(255,255,255,0.8)' })} />
      <div style={abs(218, 402, 23, 9, { background: MUT_COLOR, border: '1px solid #444' })} />
      <div style={abs(218, 416, 23, 9, { background: WT_COLOR, border: '1px solid #444' })} />
      <T x={248} y={406} text="Mutant" align="left" />
      <T x={248} y={420.5} text="WT" align="left" />

      {/* panel d texts */}
      <T x={740} y={393} text="pearson r²=0.0" align="left" />
      <T x={926} y={383} text="pearson r²=0.01" align="left" />
      <T x={742} y={526} text="pearson r²=0.06" align="left" />
      <T x={929} y={525} text="pearson r²=0.06" align="left" />
      <T x={845} y={694} text="pearson r²=0.01" align="left" />
      <T x={810} y={653} text={'log\u2082(ON:OFF)'} />
      <T x={997} y={653} text={'log\u2082(ON:OFF)'} />
      <T x={903} y={820} text={'log\u2082(ON:OFF)'} />
      <VText x={802} y={747} lines={['W,F,Y,L count']} />

      {/* panel e x title */}
      <T x={104} y={962} text="Mutant tile activity category" />

      {/* panel f y title */}
      <VText x={275.8} y={791} lines={['Necessary sequence', 'category']} />
    </div>
  );
}
